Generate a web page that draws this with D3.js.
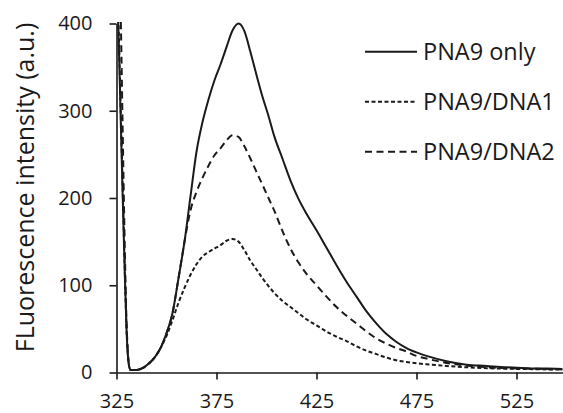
<!DOCTYPE html>
<html>
<head>
<meta charset="utf-8">
<script src="https://cdn.jsdelivr.net/npm/d3@7"></script>
<style>
  body { margin: 0; background: #fff; }
  svg text { font-family: "Open Sans", sans-serif; fill: #1a1a1a; }
</style>
</head>
<body>
<div id="chart"></div>
<script>
// wavelength (nm)
var wavelength = [325, 326, 327, 328, 329, 330, 331, 332, 335, 338, 341, 344, 347, 350, 353, 356, 359, 362, 365, 368,
  371, 374, 377, 380, 383, 386, 389, 392, 395, 398, 401, 404, 408, 412, 416, 420, 425, 430, 435, 440,
  445, 450, 455, 460, 465, 470, 475, 480, 490, 500, 510, 520, 530, 540, 548]

var pnaOnly = [440, 390, 300, 210, 125, 50, 12, 3, 3, 5, 10, 17, 28, 45, 68, 108, 150, 202, 253, 287,
  313, 335, 353, 373, 392, 400, 391, 367, 341, 316, 294, 270, 245, 220, 199, 182, 163, 143, 123, 104,
  87, 70, 56, 44, 35, 28, 23, 19, 13, 9, 7.5, 6, 5, 4.5, 4]

var pnaDna1 = [450, 400, 310, 220, 130, 52, 12, 3, 3, 5, 10, 17, 28, 42, 60, 80, 97, 112, 124, 133,
  138, 142, 146, 151, 153, 150, 140, 128, 118, 108, 99, 91, 82, 75, 68, 61, 54, 47, 41, 36,
  30, 25, 21, 17, 14, 12, 10.5, 9.5, 7.5, 6, 5, 4.3, 4, 3.5, 3.3]

var pnaDna2 = [520, 480, 420, 290, 160, 60, 14, 3, 3, 5, 10, 17, 28, 45, 68, 108, 150, 186, 207, 223,
  237, 249, 257, 266, 272, 270, 259, 245, 230, 215, 200, 185, 162, 142, 126, 113, 100, 87, 75, 65,
  56, 47, 39, 33, 28, 24, 19, 16, 11, 8, 6, 5, 4.5, 4, 3.5]

var seriesNames = ["PNA9 only", "PNA9/DNA1", "PNA9/DNA2"]
var yTicks = [0, 100, 200, 300, 400]
var xTicks = [325, 375, 425, 475, 525]

var width = 563, height = 413
var dashes = [null, "4,2.5", "7,4.5"]

var svg = d3.select("#chart").append("svg")
  .attr("width", width)
  .attr("height", height)

var x = d3.scaleLinear().domain([325, 548]).range([116.5, 562.5])
var y = d3.scaleLinear().domain([0, 400]).range([372.5, 23.5])

svg.append("clipPath").attr("id", "plot")
  .append("rect")
  .attr("x", x(325)).attr("y", y(400) - 1.5)
  .attr("width", x(548) - x(325)).attr("height", y(0) - y(400) + 1.5)

var series = [pnaOnly, pnaDna1, pnaDna2].map(function(vals, i) {
  return { name: seriesNames[i], dash: dashes[i],
    values: vals.map(function(v, j) { return { w: wavelength[j], v: v } }) }
})

var line = d3.line()
  .x(function(d) { return x(d.w) })
  .y(function(d) { return y(d.v) })
  .curve(d3.curveMonotoneX)

svg.append("g")
  .attr("clip-path", "url(#plot)")
  .selectAll("path")
  .data(series)
  .enter().append("path")
  .attr("d", function(d) { return line(d.values) })
  .attr("fill", "none")
  .attr("stroke", "#1a1a1a")
  .attr("stroke-width", 2)
  .attr("stroke-dasharray", function(d) { return d.dash })

// axes
svg.append("g")
  .attr("transform", "translate(" + x(325) + ",0)")
  .call(d3.axisLeft(y).tickValues(yTicks).tickSize(7).tickSizeOuter(0).tickPadding(17))

svg.append("g")
  .attr("transform", "translate(0," + y(0) + ")")
  .call(d3.axisBottom(x).tickValues(xTicks).tickSize(7).tickSizeOuter(0).tickPadding(14).tickFormat(d3.format("d")))

svg.selectAll(".domain, .tick line").attr("stroke", "#1a1a1a").attr("stroke-width", 1.6)
svg.selectAll(".tick text").attr("font-size", 20).attr("font-family", "Open Sans").attr("fill", "#1a1a1a")

svg.append("text")
  .attr("transform", "translate(34,187.5) rotate(-90)")
  .attr("text-anchor", "middle")
  .attr("font-size", 25)
  .text("FLuorescence intensity (a.u.)")

// legend
var legend = svg.selectAll("g.legend")
  .data(series)
  .enter().append("g")
  .attr("class", "legend")
  .attr("transform", function(d, i) { return "translate(365," + (51.7 + i * 50) + ")" })

legend.append("line")
  .attr("x1", 0).attr("x2", 52)
  .attr("stroke", "#1a1a1a")
  .attr("stroke-width", 2)
  .attr("stroke-dasharray", function(d) { return d.dash })

legend.append("text")
  .attr("x", 58)
  .attr("y", 8)
  .attr("font-size", 23.5)
  .text(function(d) { return d.name })
</script>
</body>
</html>
